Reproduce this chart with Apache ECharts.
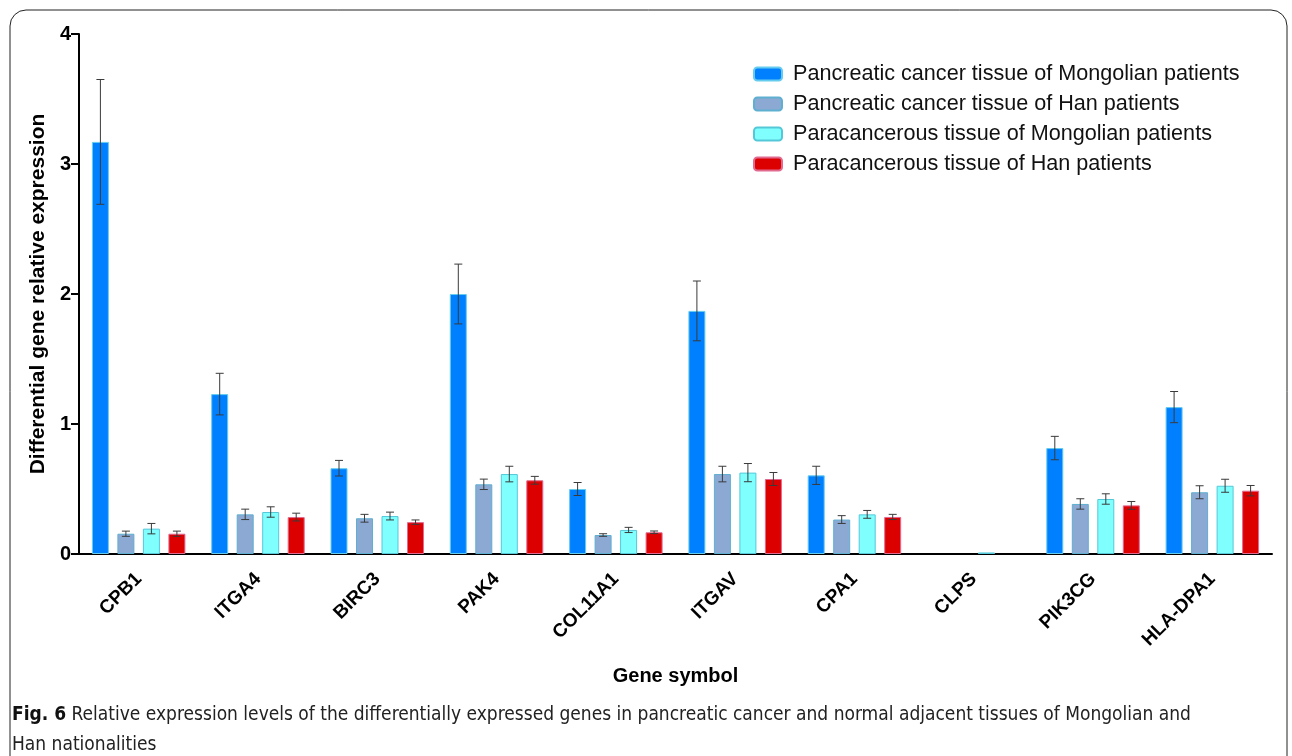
<!DOCTYPE html>
<html>
<head>
<meta charset="utf-8">
<script src="https://cdn.jsdelivr.net/npm/echarts@6/dist/echarts.min.js"></script>
<style>
html,body{margin:0;padding:0;background:#fff;}
#chart{width:1292px;height:756px;}
</style>
</head>
<body>
<div id="chart"></div>
<script>
const genes = ['CPB1','ITGA4','BIRC3','PAK4','COL11A1','ITGAV','CPA1','CLPS','PIK3CG','HLA-DPA1'];
const seriesNames = [
  'Pancreatic cancer tissue of Mongolian patients',
  'Pancreatic cancer tissue of Han patients',
  'Paracancerous tissue of Mongolian patients',
  'Paracancerous tissue of Han patients'
];
const cancerMongolian = [3.17, 1.23, 0.66, 2.00, 0.50, 1.87, 0.605, 0, 0.815, 1.13];
const cancerHan       = [0.156, 0.305, 0.275, 0.536, 0.146, 0.615, 0.265, 0, 0.385, 0.475];
const paraMongolian   = [0.195, 0.323, 0.292, 0.615, 0.185, 0.626, 0.305, 0.012, 0.423, 0.525];
const paraHan         = [0.156, 0.284, 0.245, 0.567, 0.167, 0.577, 0.285, 0, 0.374, 0.487];
const errCancerMongolian = [0.48, 0.16, 0.06, 0.23, 0.05, 0.23, 0.07, 0, 0.09, 0.12];
const errCancerHan       = [0.02, 0.04, 0.03, 0.04, 0.01, 0.06, 0.03, 0, 0.04, 0.05];
const errParaMongolian   = [0.04, 0.04, 0.03, 0.06, 0.02, 0.07, 0.03, 0, 0.04, 0.05];
const errParaHan         = [0.02, 0.03, 0.017, 0.03, 0.01, 0.05, 0.02, 0, 0.03, 0.04];
const yTicks = [0, 1, 2, 3, 4];

const values = [cancerMongolian, cancerHan, paraMongolian, paraHan];
const errors = [errCancerMongolian, errCancerHan, errParaMongolian, errParaHan];
const fills = ['#0080FF', '#8CA9D4', '#80FFFF', '#DD0000'];
const borders = ['#66CCEE', '#5FAFD0', '#55C8D8', '#E06A90'];
const BAR_W = 17;
const GAP_RATIO = 0.5;
const FONT = "'Liberation Sans', Arial, Helvetica, sans-serif";
const CAP_FONT = "'DejaVu Sans Condensed', 'Liberation Sans Narrow', sans-serif";

const chart = echarts.init(document.getElementById('chart'));

const barSeries = values.map((arr, s) => ({
  name: seriesNames[s],
  type: 'bar',
  data: arr.map(v => v === 0 ? { value: v, itemStyle: { borderWidth: 0 } } : v),
  barWidth: BAR_W,
  barGap: '50%',
  itemStyle: { color: fills[s], borderColor: borders[s], borderWidth: 1 },
  emphasis: { disabled: true },
  z: 2
}));

const errSeries = values.map((arr, s) => ({
  name: seriesNames[s] + ' err',
  type: 'custom',
  data: arr.map((v, i) => [i, v, errors[s][i]]),
  z: 5,
  silent: true,
  renderItem: function (params, api) {
    const e = api.value(2);
    if (!e) return null;
    const v = api.value(1);
    const step = BAR_W * (1 + GAP_RATIO);
    const x = api.coord([api.value(0), 0])[0] + (s - 1.5) * step;
    const yT = api.coord([api.value(0), v + e])[1];
    const yB = api.coord([api.value(0), v - e])[1];
    const hw = 4;
    const style = { stroke: '#3a3a3a', lineWidth: 1 };
    return {
      type: 'group',
      children: [
        { type: 'line', shape: { x1: x, y1: yT, x2: x, y2: yB }, style },
        { type: 'line', shape: { x1: x - hw, y1: yT, x2: x + hw, y2: yT }, style },
        { type: 'line', shape: { x1: x - hw, y1: yB, x2: x + hw, y2: yB }, style }
      ]
    };
  }
}));

chart.setOption({
  animation: false,
  backgroundColor: '#fff',
  textStyle: { fontFamily: FONT },
  grid: { left: 79, right: 20, top: 34, bottom: 202, containLabel: false },
  legend: {
    data: seriesNames,
    orient: 'vertical',
    left: 748,
    top: 58,
    itemWidth: 28,
    itemHeight: 13,
    itemGap: 8,
    textStyle: { fontSize: 21.6, color: '#111', fontFamily: FONT, padding: [0, 0, 0, 6] }
  },
  xAxis: {
    type: 'category',
    data: genes,
    name: 'Gene symbol',
    nameLocation: 'middle',
    nameGap: 112,
    nameTextStyle: { fontSize: 20, fontWeight: 'bold', color: '#000', fontFamily: FONT },
    axisLine: { lineStyle: { color: '#000', width: 2 } },
    axisTick: { alignWithLabel: true, length: 6, lineStyle: { color: '#000', width: 2 } },
    axisLabel: { rotate: 45, fontSize: 19, fontWeight: 'bold', color: '#000', margin: 22, fontFamily: FONT }
  },
  yAxis: {
    type: 'value',
    min: 0,
    max: 4,
    interval: 1,
    name: 'Differential gene relative expression',
    nameLocation: 'middle',
    nameGap: 29,
    nameTextStyle: { fontSize: 21, fontWeight: 'bold', color: '#000', fontFamily: FONT },
    axisLine: { show: true, lineStyle: { color: '#000', width: 2 } },
    axisTick: { show: true, length: 8, lineStyle: { color: '#000', width: 2 } },
    axisLabel: { fontSize: 20, fontWeight: 'bold', color: '#000', margin: 8, fontFamily: FONT,
      formatter: v => yTicks.includes(v) ? String(v) : '' },
    splitLine: { show: false }
  },
  graphic: [
    {
      type: 'rect',
      shape: { x: 10, y: 10, width: 1277, height: 780, r: 16 },
      style: { fill: 'none', stroke: '#222', lineWidth: 1 },
      silent: true, z: -1
    },
    {
      type: 'text',
      left: 12,
      top: 700,
      style: {
        text: '{b|Fig. 6} Relative expression levels of the differentially expressed genes in pancreatic cancer and normal adjacent tissues of Mongolian and\nHan nationalities',
        fontFamily: CAP_FONT,
        fontSize: 19,
        lineHeight: 30,
        fill: '#222',
        rich: {
          b: { fontWeight: 'bold', fontSize: 19, fill: '#111', fontFamily: CAP_FONT }
        }
      }
    }
  ],
  series: barSeries.concat(errSeries)
});
</script>
</body>
</html>
